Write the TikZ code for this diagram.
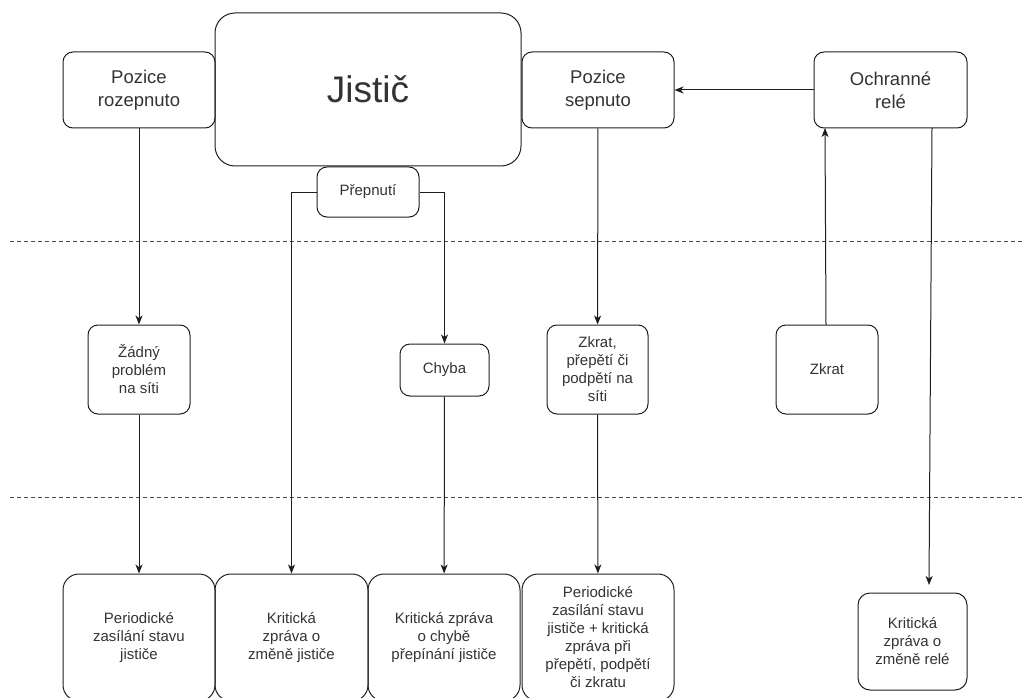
\documentclass[tikz,border=0pt]{standalone}
\usepackage{fontspec}
\setmainfont{Liberation Sans}
\usetikzlibrary{arrows.meta}
\definecolor{txt}{HTML}{333333}
\definecolor{ln}{HTML}{1E1E1E}
\begin{document}
\begin{tikzpicture}[x=1pt,y=-1pt,
  box/.style={draw=ln, line width=1pt, rounded corners=10pt, inner sep=0pt, align=center,
    text=txt, font=\fontsize{15}{18}\selectfont},
  bigbox/.style={box, rounded corners=16pt},
  arr/.style={draw=ln, line width=1pt, -{Stealth[length=9pt,width=7pt,inset=2.5pt]}},
  conn/.style={draw=ln, line width=1pt},
  divider/.style={draw=ln!80, line width=0.8pt, dash pattern=on 4pt off 3pt}]
\clip (0,0) rectangle (1023,698);
\useasboundingbox (0,0) rectangle (1023,698);
% dividers
\draw[divider] (10,241) -- (1023,241);
\draw[divider] (10,497) -- (1023,497);
% top row
\node[box, minimum width=152pt, minimum height=76pt, font=\fontsize{18.5}{23}\selectfont] (roz) at (139,90) {Pozice\\rozepnuto};
\node[box, rounded corners=20pt, minimum width=306pt, minimum height=153pt, font=\fontsize{37}{44}\selectfont] (jistic) at (368,89.5) {Jistič};
\node[box, minimum width=102pt, minimum height=50pt] (prep) at (368,192) {Přepnutí};
\node[box, minimum width=152pt, minimum height=76pt, font=\fontsize{18.5}{23}\selectfont] (sepn) at (598,90) {Pozice\\sepnuto};
\node[box, minimum width=153pt, minimum height=76pt, font=\fontsize{18.5}{23}\selectfont] (rele) at (890.5,90) {Ochranné\\relé};
% middle row
\node[box, minimum width=102pt, minimum height=89pt] (zadny) at (139,369.5) {Žádný\\problém\\na síti};
\node[box, minimum width=89pt, minimum height=52pt] (chyba) at (444.5,370) {Chyba};
\node[box, minimum width=101pt, minimum height=89pt] (zkratp) at (597.5,369.5) {Zkrat,\\přepětí či\\podpětí na\\síti};
\node[box, minimum width=102pt, minimum height=89pt] (zkrat) at (827,369.5) {Zkrat};
% bottom row
\node[bigbox, minimum width=152pt, minimum height=127pt] (b1) at (139,637.5) {Periodické\\zasílání stavu\\jističe};
\node[bigbox, minimum width=153pt, minimum height=127pt] (b2) at (291.5,637.5) {Kritická\\zpráva o\\změně jističe};
\node[bigbox, minimum width=152pt, minimum height=127pt] (b3) at (444,637.5) {Kritická zpráva\\o chybě\\přepínání jističe};
\node[bigbox, minimum width=152pt, minimum height=127pt] (b4) at (598,637.5) {Periodické\\zasílání stavu\\jističe + kritická\\zpráva při\\přepětí, podpětí\\či zkratu};
\node[box, rounded corners=12pt, minimum width=109pt, minimum height=97pt] (relemsg) at (912.5,641.5) {Kritická\\zpráva o\\změně relé};
% connectors
\draw[arr] (roz) -- (zadny);
\draw[arr] (zadny) -- (b1);
\draw[arr] (prep.west) -| (b2.north);
\draw[arr] (prep.east) -| (chyba.north);
\draw[arr] (chyba) -- (b3);
\draw[arr] (sepn) -- (zkratp);
\draw[arr] (zkratp) -- (b4);
\draw[arr] (rele.west) -- (sepn.east);
\coordinate (za) at (826,325);
\coordinate (zb) at (825,128);
\draw[arr] (za) -- (zb);
\coordinate (ra) at (932,128);
\coordinate (rb) at (929,585);
\draw[arr] (ra) -- (rb);
\end{tikzpicture}
\end{document}
